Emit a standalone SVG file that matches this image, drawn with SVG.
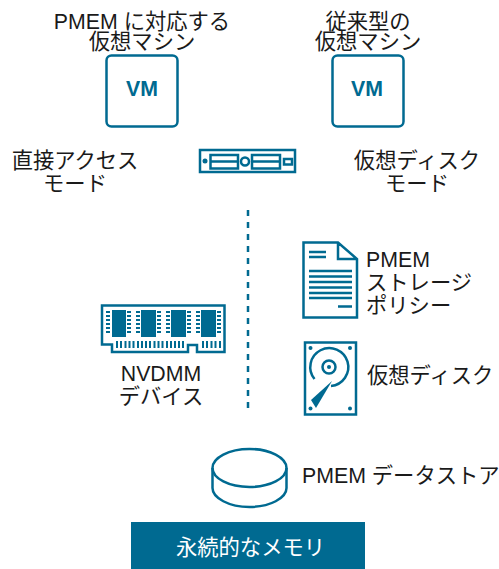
<svg xmlns="http://www.w3.org/2000/svg" width="499" height="569" viewBox="0 0 499 569">
<style>
text{font-family:"Liberation Sans","Noto Sans CJK JP",sans-serif;font-size:21.3px;fill:#1a1a1a}
.m{text-anchor:middle}
.s{fill:none;stroke:#006a91;stroke-width:2.5}
.f{fill:#006a91}
.vm{font-size:21.3px;font-weight:bold;fill:#006a91;text-anchor:middle}
</style>
<rect width="499" height="569" fill="#fff"/>
<g id="connectors"><path d="M248 210V410" fill="none" stroke="#006a91" stroke-width="2.500" stroke-dasharray="6 6"/></g>
<g id="vm1"><rect class="s" x="106.500" y="55.500" width="71" height="71" rx="5"/><text class="vm" x="142" y="96">VM</text>
<text class="m" x="142" y="29">PMEM に対応する</text><text class="m" x="142" y="49">仮想マシン</text></g>
<g id="vm2"><rect class="s" x="332.500" y="55.500" width="71" height="71" rx="5"/><text class="vm" x="367" y="96">VM</text>
<text class="m" x="368" y="29">従来型の</text><text class="m" x="368" y="49">仮想マシン</text></g>
<g id="mode1"><text class="m" x="75" y="168">直接アクセス</text><text class="m" x="75" y="191">モード</text></g>
<g id="mode2"><text class="m" x="417" y="168">仮想ディスク</text><text class="m" x="417" y="191">モード</text></g>
<g id="server"><rect class="s" x="200" y="150" width="95" height="22"/><circle class="f" cx="205" cy="161" r="2.500"/>
<path class="s" d="M210.500 155H238V168.500H210.500ZM210.500 161.500H238M252 155H280V168.500H252ZM252 161.500H280"/><circle class="s" cx="245" cy="161.500" r="4"/><rect class="s" x="284" y="159" width="8" height="5.500"/></g>
<g id="nvdimm"><path class="s" d="M102 305.500H224.500V352H197V345H188V352H112V344.500H102Z"/>
<rect class="f" x="112" y="310" width="14" height="27"/><rect class="f" x="141" y="310" width="15" height="27"/><rect class="f" x="171" y="310" width="15" height="27"/><rect class="f" x="201" y="310" width="15" height="27"/>
<path d="M106 312H110M106 316H110M106 320H110M106 324H110M106 328H110M106 332H110M127 312H131M127 316H131M127 320H131M127 324H131M127 328H131M127 332H131M136 312H140M136 316H140M136 320H140M136 324H140M136 328H140M136 332H140M157 312H161M157 316H161M157 320H161M157 324H161M157 328H161M157 332H161M166 312H170M166 316H170M166 320H170M166 324H170M166 328H170M166 332H170M187 312H191M187 316H191M187 320H191M187 324H191M187 328H191M187 332H191M196 312H200M196 316H200M196 320H200M196 324H200M196 328H200M196 332H200M217 312H221M217 316H221M217 320H221M217 324H221M217 328H221M217 332H221" stroke="#006a91" stroke-width="2" fill="none"/>
<path d="M117 341V348M121 341V348M125.500 341V348M129.500 341V348M133.500 341V348M138 341V348M142 341V348M146 341V348M150 341V348M154.500 341V348M158.500 341V348M162.500 341V348M167 341V348M171 341V348M175 341V348M179 341V348M183 341V348M203 341V348M207 341V348M211.500 341V348M215.500 341V348M220 341V348" stroke="#006a91" stroke-width="2" fill="none"/>
<text class="m" x="161" y="381">NVDMM</text><text class="m" x="161" y="404">デバイス</text></g>
<g id="policy"><path class="s" d="M303.500 242.500H338L357 259V317.500H303.500ZM338 242.500V259H357"/>
<path class="s" d="M309 252H326M309 257H326M309 271H352M309 276.500H352M309 282H352M309 287.500H352M309 293H352M309 298H352M338 306.500H352"/>
<text x="366" y="267">PMEM</text><text x="366" y="290">ストレージ</text><text x="366" y="313">ポリシー</text></g>
<g id="disk"><rect class="s" x="305" y="342.500" width="51" height="72"/><circle class="f" cx="310.500" cy="348" r="2"/><circle class="f" cx="350" cy="348" r="2"/><circle class="f" cx="310.500" cy="408.500" r="2"/><circle class="f" cx="350" cy="408.500" r="2"/>
<path class="s" d="M331 386A19 19 0 1 0 314.500 379"/><circle class="s" cx="329" cy="367" r="6.500"/><circle class="f" cx="329" cy="367" r="2"/>
<path class="f" d="M332 381L311 400L316 408Z"/>
<text x="367" y="383">仮想ディスク</text></g>
<g id="datastore"><ellipse class="s" cx="249.500" cy="468" rx="37" ry="19"/><path class="s" d="M212.500 468V488C212.500 498 229 507 249.500 507S286.500 498 286.500 488V468"/>
<text x="302" y="483">PMEM データストア</text></g>
<g id="pmem"><rect class="f" x="131" y="522" width="234" height="47"/><text class="m" x="250.500" y="555" style="fill:#fff">永続的なメモリ</text></g>
</svg>
